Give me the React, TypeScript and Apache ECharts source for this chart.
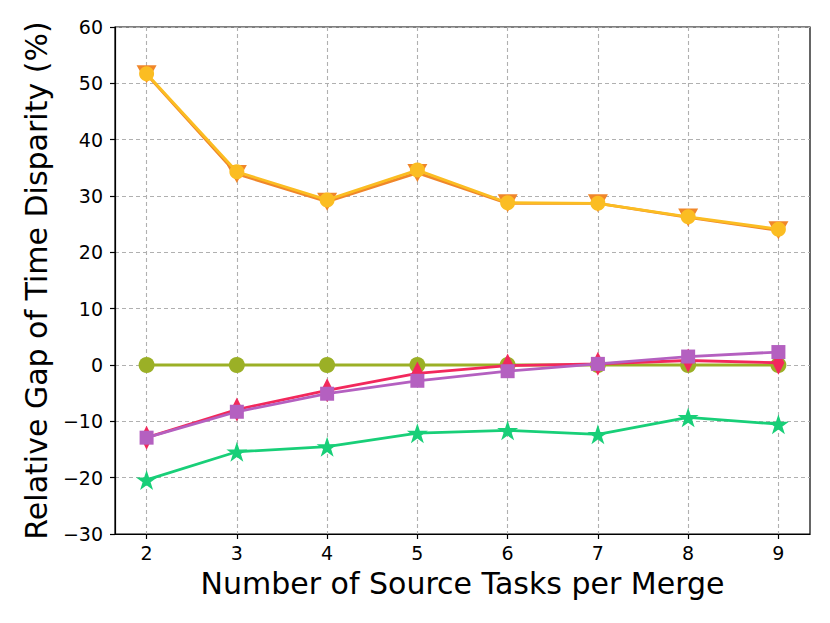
import React, { useEffect, useRef } from "react";
import * as echarts from "echarts";

const xValues = [2, 3, 4, 5, 6, 7, 8, 9];
const orangeVals = [51.6, 33.9, 29.0, 34.1, 28.7, 28.7, 26.2, 23.9];
const yellowVals = [51.7, 34.3, 29.3, 34.6, 28.8, 28.7, 26.3, 24.1];
const oliveVals = [0, 0, 0, 0, 0, 0, 0, 0];
const redVals = [-12.9, -7.9, -4.5, -1.5, -0.1, 0.2, 0.8, 0.4];
const purpleVals = [-12.9, -8.3, -5.1, -2.8, -1.1, 0.2, 1.5, 2.3];
const greenVals = [-20.4, -15.4, -14.5, -12.1, -11.6, -12.3, -9.3, -10.5];
const xTicks = [2, 3, 4, 5, 6, 7, 8, 9];

const STAR =
  "path://M50,0 L61.2,34.5 L97.6,34.5 L68.2,55.9 L79.4,90.5 L50,69.1 L20.6,90.5 L31.8,55.9 L2.4,34.5 L38.8,34.5 Z";

const FONT = "DejaVu Sans";

function pts(vals: number[]) {
  return xValues.map((x, i) => [x, vals[i]]);
}

export default function App() {
  const ref = useRef<HTMLDivElement>(null);
  useEffect(() => {
    if (!ref.current) return;
    const chart = echarts.init(ref.current, null, { renderer: "svg" });
    const fmt = (v: number) => String(v).replace("-", "\u2212");
    const mk = (
      name: string,
      vals: number[],
      color: string,
      symbol: string,
      size: any,
      rotate = 0,
      z = 2
    ) => ({
      name,
      type: "line",
      data: pts(vals),
      symbol,
      symbolSize: size,
      symbolRotate: rotate,
      symbolKeepAspect: true,
      showAllSymbol: true,
      z,
      lineStyle: { color, width: 2.8 },
      itemStyle: { color, borderWidth: 0, opacity: 1 },
      emphasis: { disabled: true },
    });
    chart.setOption({
      animation: false,
      grid: {
        left: 115,
        right: 20,
        top: 27,
        bottom: 89,
        show: true,
        borderColor: "#000",
        borderWidth: 1.2,
        backgroundColor: "transparent",
      },
      xAxis: {
        type: "value",
        min: 1.65,
        max: 9.35,
        name: "Number of Source Tasks per Merge",
        nameLocation: "middle",
        nameGap: 34,
        nameTextStyle: { fontFamily: FONT, fontSize: 30, color: "#000" },
        axisLine: { show: true, onZero: false, lineStyle: { color: "#000", width: 1.2 } },
        axisTick: {
          show: true,
          length: 5,
          lineStyle: { color: "#000", width: 1.2 },
          customValues: xTicks,
        },
        axisLabel: {
          fontFamily: FONT,
          fontSize: 19,
          color: "#000",
          margin: 9,
          customValues: xTicks,
          formatter: (v: number) => fmt(v),
        },
        splitLine: {
          show: true,
          lineStyle: { color: "#b0b0b0", type: [4, 3], width: 1.1 },
        },
      },
      yAxis: {
        type: "value",
        min: -30,
        max: 60,
        interval: 10,
        name: "Relative Gap of Time Disparity (%)",
        nameLocation: "middle",
        nameGap: 64,
        nameTextStyle: { fontFamily: FONT, fontSize: 30, color: "#000" },
        axisLine: { show: true, onZero: false, lineStyle: { color: "#000", width: 1.2 } },
        axisTick: { show: true, length: 5, lineStyle: { color: "#000", width: 1.2 } },
        axisLabel: {
          fontFamily: FONT,
          fontSize: 19,
          color: "#000",
          margin: 12,
          formatter: (v: number) => fmt(v),
        },
        splitLine: {
          show: true,
          lineStyle: { color: "#b0b0b0", type: [4, 3], width: 1.1 },
        },
      },
      series: [
        mk("orange", orangeVals, "#f0862a", "triangle", [20, 18], 180, 2),
        mk("yellow", yellowVals, "#fbbd22", "circle", 15, 0, 3),
        mk("olive", oliveVals, "#9bb026", "circle", 16, 0, 4),
        mk("red", redVals, "#f2285c", "diamond", [12, 24], 0, 5),
        mk("purple", purpleVals, "#b460c0", "rect", 14, 0, 6),
        mk("green", greenVals, "#18cf78", STAR, 21, 0, 7),
      ],
    });
    return () => chart.dispose();
  }, []);
  return (
    <div
      ref={ref}
      style={{ position: "absolute", left: 0, top: 0, width: 830, height: 623, background: "#fff" }}
    />
  );
}
